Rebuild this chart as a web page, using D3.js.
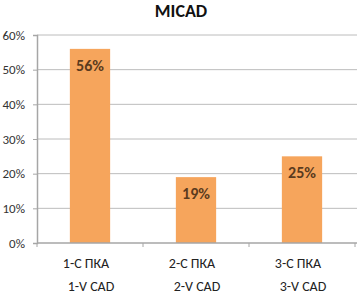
<!DOCTYPE html>
<html><head><meta charset="utf-8">
<script src="https://cdn.jsdelivr.net/npm/d3@7"></script>
<style>body{margin:0;background:#fff}</style>
</head><body>
<svg id="c" width="357" height="295"></svg>
<script>
const categoriesLine1 = ["1-С ПКА", "2-С ПКА", "3-С ПКА"];
const categoriesLine2 = ["1-V CAD", "2-V CAD", "3-V CAD"];
const values = [0.56, 0.19, 0.25];
const yTicks = [0, 0.1, 0.2, 0.3, 0.4, 0.5, 0.6];
const title = "MICAD";

const svg = d3.select("#c");
const m = {left: 37, right: 355, top: 35, bottom: 243};
const x = d3.scaleBand().domain(d3.range(values.length)).range([m.left, m.right]).paddingInner(0.62).paddingOuter(0.31);
const y = d3.scaleLinear().domain([0, 0.6]).range([m.bottom, m.top]);
const font = "Calibri, Carlito, 'Liberation Sans', Arial, sans-serif";

// gridlines
svg.append("g").selectAll("line").data(yTicks.filter(d => d > 0)).join("line")
  .attr("x1", m.left).attr("x2", 357).attr("y1", d => y(d)).attr("y2", d => y(d))
  .attr("stroke", "#bcbcbc").attr("stroke-width", 1);

// y axis
const ya = svg.append("g").attr("transform", `translate(${m.left},0)`)
  .call(d3.axisLeft(y).tickValues(yTicks).tickFormat(d3.format(".0%")).tickSize(4));
ya.select(".domain").attr("stroke", "#a6a6a6").attr("stroke-width", 1.5);
ya.selectAll(".tick line").attr("stroke", "#a6a6a6");
ya.selectAll("text").attr("font-family", font).attr("font-size", 13).attr("fill", "#333").attr("x", -12).attr("text-anchor", "end");

// bars
svg.append("g").selectAll("rect").data(values).join("rect")
  .attr("x", (d, i) => x(i)).attr("width", x.bandwidth())
  .attr("y", d => y(d)).attr("height", d => y(0) - y(d))
  .attr("fill", "#F6A55C");

// x axis
const xa = svg.append("g").attr("transform", `translate(0,${m.bottom})`);
xa.append("line").attr("x1", m.left).attr("x2", 357).attr("stroke", "#a6a6a6").attr("stroke-width", 1.5);
const step = (m.right - m.left) / values.length;
xa.selectAll(".tk").data(d3.range(values.length + 1)).join("line")
  .attr("x1", i => m.left + i * step).attr("x2", i => m.left + i * step)
  .attr("y1", 0).attr("y2", 4).attr("stroke", "#a6a6a6");

// value labels
svg.append("g").selectAll("text").data(values).join("text")
  .attr("x", (d, i) => x(i) + x.bandwidth() / 2).attr("y", d => y(d) + 22)
  .attr("text-anchor", "middle").attr("font-family", font).attr("font-size", 16).attr("font-weight", "bold")
  .attr("fill", "#5b3b1e").text(d => Math.round(d * 100) + "%");

// category labels
svg.append("g").selectAll("text").data(categoriesLine1).join("text")
  .attr("x", (d, i) => x(i) + x.bandwidth() / 2 - 4).attr("y", 268)
  .attr("text-anchor", "middle").attr("font-family", font).attr("font-size", 14)
  .attr("fill", "#222").text(d => d);
svg.append("g").selectAll("text").data(categoriesLine2).join("text")
  .attr("x", (d, i) => x(i) + x.bandwidth() / 2 + 1).attr("y", 291)
  .attr("text-anchor", "middle").attr("font-family", font).attr("font-size", 14)
  .attr("fill", "#222").text(d => d);

// title
svg.append("text").attr("x", 181).attr("y", 17).attr("text-anchor", "middle")
  .attr("font-family", font).attr("font-size", 18).attr("font-weight", "bold").attr("fill", "#111").text(title);
</script>
</body></html>
